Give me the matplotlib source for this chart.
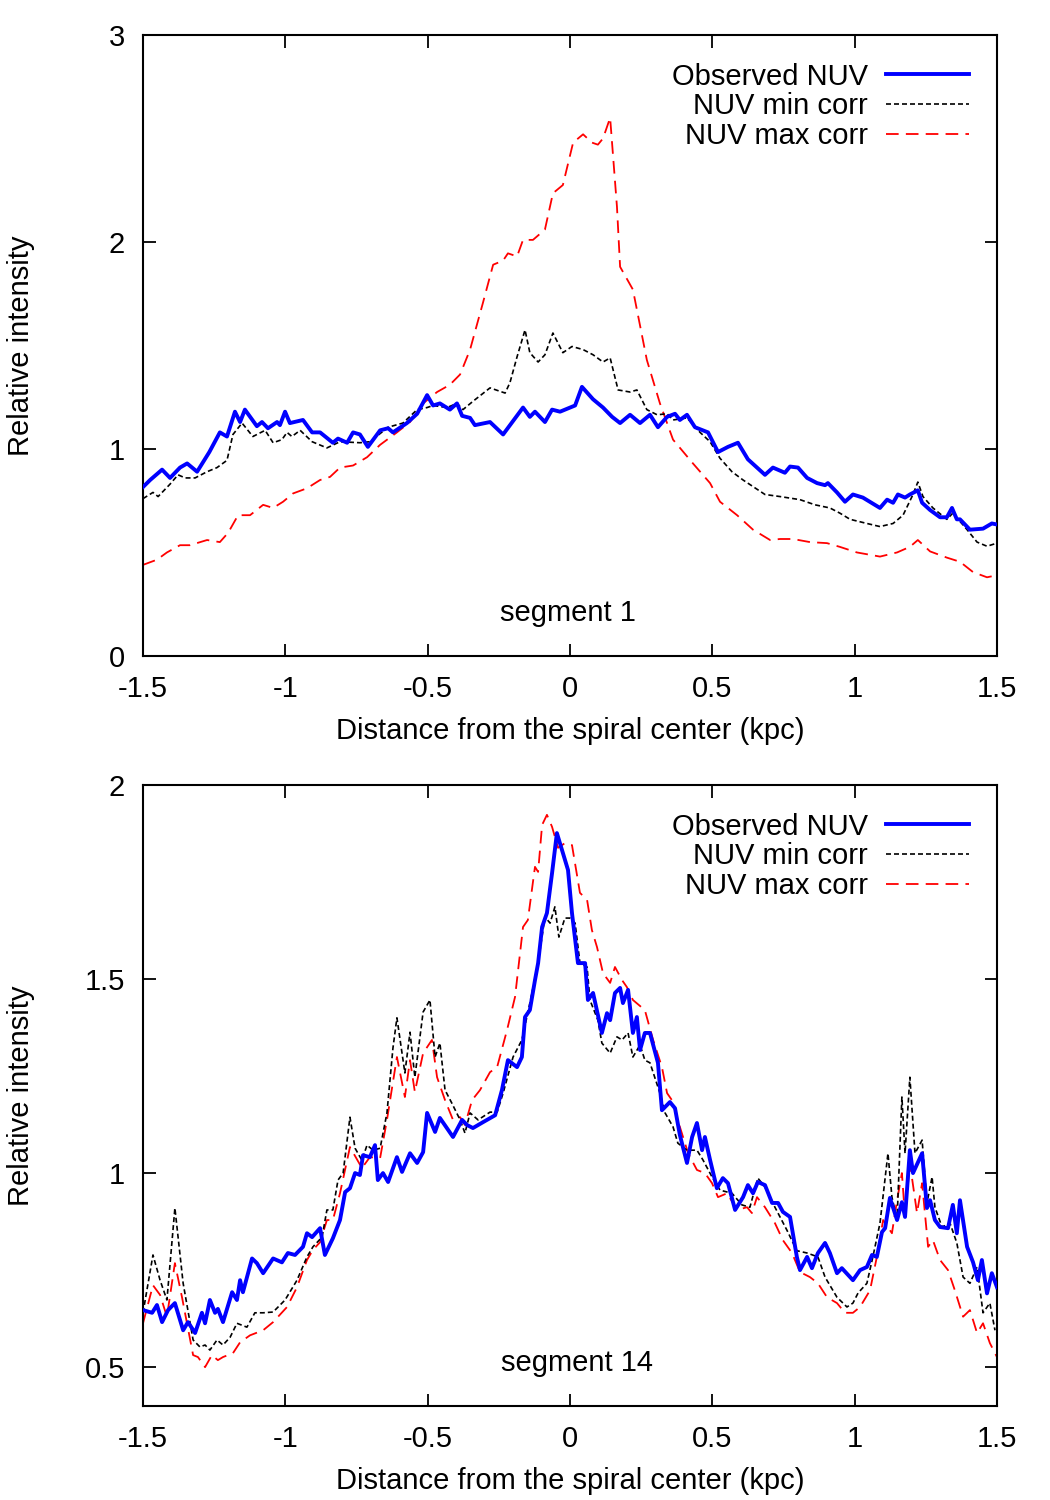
import numpy as np
import matplotlib
matplotlib.use('Agg')
import matplotlib.pyplot as plt

plt.rcParams['font.family'] = ['Liberation Sans', 'DejaVu Sans']

# ---- segment 1 ----
s1_obs_x = [-1.500, -1.475, -1.433, -1.405, -1.370, -1.345, -1.310, -1.267, -1.230, -1.205,
            -1.177, -1.159, -1.142, -1.100, -1.082, -1.061, -1.029, -1.019, -1.001, -0.984,
            -0.938, -0.906, -0.878, -0.833, -0.815, -0.783, -0.762, -0.738, -0.710, -0.667,
            -0.639, -0.622, -0.573, -0.537, -0.502, -0.481, -0.457, -0.422, -0.397, -0.379,
            -0.351, -0.334, -0.281, -0.235, -0.165, -0.141, -0.123, -0.088, -0.063, -0.035,
            0.018, 0.042, 0.081, 0.116, 0.148, 0.176, 0.211, 0.246, 0.281, 0.309,
            0.341, 0.369, 0.386, 0.411, 0.439, 0.485, 0.520, 0.555, 0.590, 0.625,
            0.685, 0.713, 0.755, 0.773, 0.801, 0.833, 0.868, 0.896, 0.906, 0.938,
            0.966, 0.994, 1.029, 1.089, 1.114, 1.135, 1.152, 1.177, 1.194, 1.222,
            1.237, 1.265, 1.300, 1.324, 1.342, 1.359, 1.370, 1.405, 1.451, 1.482, 1.500]
s1_obs_y = [0.816, 0.85, 0.90, 0.86, 0.91, 0.93, 0.89, 0.985, 1.08, 1.06,
            1.18, 1.13, 1.19, 1.11, 1.13, 1.10, 1.13, 1.115, 1.18, 1.125,
            1.14, 1.08, 1.08, 1.03, 1.05, 1.03, 1.08, 1.07, 1.01, 1.09,
            1.10, 1.08, 1.125, 1.17, 1.26, 1.21, 1.22, 1.19, 1.22, 1.16,
            1.15, 1.115, 1.13, 1.07, 1.20, 1.155, 1.18, 1.13, 1.19, 1.18,
            1.21, 1.30, 1.24, 1.20, 1.155, 1.125, 1.165, 1.125, 1.165, 1.105,
            1.155, 1.17, 1.14, 1.165, 1.105, 1.08, 0.985, 1.01, 1.03, 0.95,
            0.875, 0.91, 0.885, 0.915, 0.91, 0.86, 0.835, 0.825, 0.835, 0.79,
            0.745, 0.78, 0.765, 0.715, 0.755, 0.74, 0.78, 0.765, 0.78, 0.80,
            0.74, 0.705, 0.67, 0.67, 0.715, 0.66, 0.66, 0.61, 0.615, 0.64, 0.635]

s1_min_x = [-1.500, -1.465, -1.447, -1.405, -1.377, -1.352, -1.317, -1.275, -1.240, -1.205,
            -1.184, -1.152, -1.114, -1.071, -1.043, -1.012, -0.994, -0.977, -0.948, -0.906,
            -0.854, -0.808, -0.738, -0.703, -0.639, -0.587, -0.537, -0.502, -0.481, -0.432,
            -0.397, -0.376, -0.341, -0.281, -0.228, -0.211, -0.186, -0.158, -0.141, -0.112,
            -0.088, -0.060, -0.025, 0.007, 0.046, 0.081, 0.116, 0.141, 0.169, 0.211,
            0.235, 0.270, 0.306, 0.341, 0.362, 0.411, 0.457, 0.492, 0.527, 0.569,
            0.608, 0.685, 0.738, 0.808, 0.861, 0.913, 0.948, 0.984, 1.043, 1.089,
            1.135, 1.170, 1.205, 1.222, 1.240, 1.275, 1.324, 1.345, 1.395, 1.430, 1.465, 1.500]
s1_min_y = [0.76, 0.79, 0.77, 0.83, 0.875, 0.86, 0.86, 0.89, 0.91, 0.945,
            1.07, 1.125, 1.06, 1.09, 1.03, 1.045, 1.08, 1.06, 1.09, 1.035,
            1.005, 1.035, 1.03, 1.035, 1.105, 1.125, 1.19, 1.20, 1.21, 1.20,
            1.22, 1.19, 1.23, 1.295, 1.27, 1.32, 1.445, 1.575, 1.465, 1.42,
            1.455, 1.56, 1.465, 1.495, 1.48, 1.455, 1.42, 1.44, 1.285, 1.275,
            1.285, 1.19, 1.165, 1.17, 1.14, 1.15, 1.08, 1.035, 0.955, 0.89,
            0.85, 0.78, 0.77, 0.755, 0.73, 0.715, 0.69, 0.66, 0.64, 0.625,
            0.64, 0.68, 0.78, 0.84, 0.77, 0.715, 0.66, 0.69, 0.61, 0.55, 0.53, 0.545]

s1_max_x = [-1.500, -1.451, -1.416, -1.370, -1.335, -1.275, -1.230, -1.201, -1.166, -1.124,
            -1.078, -1.043, -1.008, -0.973, -0.924, -0.878, -0.843, -0.808, -0.762, -0.713,
            -0.667, -0.608, -0.562, -0.516, -0.467, -0.422, -0.386, -0.351, -0.306, -0.270,
            -0.235, -0.218, -0.186, -0.165, -0.130, -0.088, -0.060, -0.025, 0.011, 0.046,
            0.077, 0.098, 0.116, 0.141, 0.165, 0.176, 0.221, 0.270, 0.316, 0.362,
            0.432, 0.492, 0.527, 0.587, 0.643, 0.703, 0.738, 0.783, 0.843, 0.903,
            0.948, 1.008, 1.089, 1.149, 1.194, 1.222, 1.265, 1.324, 1.370, 1.416, 1.465, 1.500]
s1_max_y = [0.44, 0.465, 0.50, 0.535, 0.535, 0.56, 0.55, 0.595, 0.68, 0.68,
            0.73, 0.715, 0.745, 0.785, 0.81, 0.85, 0.865, 0.91, 0.92, 0.96,
            1.02, 1.08, 1.13, 1.22, 1.275, 1.31, 1.36, 1.48, 1.705, 1.89,
            1.91, 1.945, 1.93, 2.01, 2.01, 2.06, 2.235, 2.275, 2.48, 2.52,
            2.48, 2.47, 2.50, 2.60, 2.17, 1.88, 1.77, 1.43, 1.22, 1.045,
            0.93, 0.835, 0.745, 0.68, 0.61, 0.56, 0.565, 0.565, 0.55, 0.545,
            0.527, 0.50, 0.48, 0.50, 0.527, 0.56, 0.505, 0.475, 0.455, 0.405, 0.38, 0.39]

# ---- segment 14 ----
s14_obs_x = [-1.500, -1.468, -1.451, -1.433, -1.412, -1.388, -1.359, -1.342, -1.317, -1.293,
             -1.282, -1.265, -1.247, -1.237, -1.219, -1.187, -1.170, -1.159, -1.149, -1.117,
             -1.100, -1.078, -1.043, -1.012, -0.991, -0.966, -0.938, -0.924, -0.906, -0.878,
             -0.861, -0.833, -0.808, -0.790, -0.773, -0.755, -0.738, -0.727, -0.703, -0.685,
             -0.675, -0.657, -0.639, -0.608, -0.590, -0.562, -0.537, -0.516, -0.502, -0.474,
             -0.457, -0.411, -0.379, -0.362, -0.341, -0.306, -0.263, -0.239, -0.218, -0.186,
             -0.169, -0.158, -0.141, -0.123, -0.112, -0.098, -0.081, -0.063, -0.046, -0.028,
             -0.007, 0.007, 0.028, 0.053, 0.063, 0.081, 0.112, 0.130, 0.141, 0.158,
             0.176, 0.186, 0.204, 0.221, 0.235, 0.246, 0.263, 0.281, 0.309, 0.323,
             0.351, 0.369, 0.386, 0.411, 0.429, 0.446, 0.464, 0.474, 0.492, 0.516,
             0.537, 0.555, 0.580, 0.608, 0.625, 0.643, 0.660, 0.685, 0.710, 0.731,
             0.748, 0.773, 0.797, 0.808, 0.833, 0.850, 0.871, 0.896, 0.913, 0.938,
             0.955, 0.994, 1.019, 1.043, 1.061, 1.078, 1.096, 1.107, 1.124, 1.149,
             1.166, 1.177, 1.194, 1.205, 1.237, 1.254, 1.265, 1.282, 1.300, 1.328,
             1.345, 1.359, 1.370, 1.395, 1.416, 1.433, 1.447, 1.465, 1.482, 1.500]
s14_obs_y = [0.647, 0.64, 0.66, 0.616, 0.647, 0.665, 0.595, 0.616, 0.588, 0.64,
             0.613, 0.673, 0.64, 0.65, 0.616, 0.693, 0.673, 0.724, 0.693, 0.78,
             0.768, 0.742, 0.78, 0.77, 0.794, 0.789, 0.81, 0.845, 0.835, 0.858,
             0.789, 0.832, 0.879, 0.951, 0.961, 1.0, 0.995, 1.046, 1.041, 1.072,
             0.982, 1.0, 0.977, 1.041, 1.003, 1.051, 1.026, 1.054, 1.155, 1.106,
             1.142, 1.093, 1.137, 1.124, 1.116, 1.131, 1.149, 1.214, 1.291, 1.273,
             1.299, 1.402, 1.42, 1.497, 1.541, 1.634, 1.67, 1.773, 1.876, 1.832,
             1.781, 1.67, 1.541, 1.541, 1.446, 1.464, 1.361, 1.412, 1.394, 1.464,
             1.477, 1.438, 1.472, 1.361, 1.402, 1.317, 1.361, 1.361, 1.284, 1.162,
             1.183, 1.167, 1.098, 1.026, 1.093, 1.129, 1.059, 1.093, 1.034, 0.961,
             0.987, 0.974, 0.905, 0.938, 0.969, 0.948, 0.977, 0.969, 0.923, 0.923,
             0.90, 0.887, 0.784, 0.75, 0.784, 0.755, 0.794, 0.82, 0.794, 0.742,
             0.755, 0.724, 0.75, 0.758, 0.789, 0.784, 0.848, 0.858, 0.936, 0.879,
             0.925, 0.887, 1.059, 1.0, 1.051, 0.91, 0.93, 0.879, 0.861, 0.858,
             0.918, 0.845, 0.93, 0.81, 0.77, 0.724, 0.776, 0.69, 0.742, 0.706]

s14_min_x = [-1.500, -1.465, -1.440, -1.416, -1.388, -1.359, -1.324, -1.300, -1.282, -1.265,
             -1.240, -1.219, -1.194, -1.170, -1.135, -1.107, -1.078, -1.043, -1.001, -0.959,
             -0.924, -0.903, -0.871, -0.854, -0.833, -0.815, -0.797, -0.773, -0.755, -0.731,
             -0.713, -0.692, -0.667, -0.643, -0.622, -0.608, -0.580, -0.562, -0.545, -0.516,
             -0.492, -0.474, -0.457, -0.439, -0.415, -0.386, -0.369, -0.351, -0.323, -0.281,
             -0.256, -0.235, -0.200, -0.169, -0.141, -0.112, -0.088, -0.070, -0.053, -0.039,
             -0.018, 0.000, 0.018, 0.035, 0.060, 0.070, 0.098, 0.112, 0.141, 0.165,
             0.183, 0.204, 0.221, 0.246, 0.263, 0.281, 0.316, 0.334, 0.362, 0.379,
             0.411, 0.446, 0.467, 0.499, 0.527, 0.569, 0.604, 0.632, 0.660, 0.685,
             0.720, 0.762, 0.797, 0.833, 0.871, 0.896, 0.938, 0.973, 0.994, 1.012,
             1.043, 1.064, 1.089, 1.117, 1.131, 1.149, 1.166, 1.177, 1.194, 1.212,
             1.237, 1.254, 1.272, 1.282, 1.307, 1.335, 1.359, 1.381, 1.405, 1.430,
             1.451, 1.475, 1.493]
s14_min_y = [0.64, 0.789, 0.724, 0.673, 0.91, 0.716, 0.57, 0.552, 0.557, 0.544,
             0.57, 0.557, 0.577, 0.613, 0.603, 0.64, 0.64, 0.642, 0.673, 0.724,
             0.784, 0.81, 0.835, 0.905, 0.905, 0.982, 1.0, 1.144, 1.064, 1.033,
             1.072, 1.059, 1.064, 1.155, 1.322, 1.40, 1.258, 1.363, 1.247, 1.415,
             1.446, 1.299, 1.335, 1.214, 1.18, 1.137, 1.103, 1.155, 1.137, 1.157,
             1.157, 1.206, 1.299, 1.343, 1.438, 1.541, 1.66, 1.644, 1.686, 1.608,
             1.657, 1.657, 1.644, 1.541, 1.531, 1.446, 1.394, 1.335, 1.309, 1.351,
             1.343, 1.361, 1.299, 1.33, 1.291, 1.284, 1.206, 1.155, 1.119, 1.077,
             1.059, 1.059, 1.034, 0.99, 0.956, 0.948, 0.918, 0.912, 0.987, 0.964,
             0.912, 0.853, 0.80, 0.794, 0.784, 0.732, 0.68, 0.655, 0.665, 0.691,
             0.716, 0.784, 0.871, 1.051, 0.938, 0.879, 1.196, 1.051, 1.247, 1.051,
             1.085, 0.923, 0.99, 0.912, 0.861, 0.871, 0.82, 0.732, 0.716, 0.758,
             0.64, 0.665, 0.595]

s14_max_x = [-1.500, -1.465, -1.440, -1.416, -1.388, -1.363, -1.324, -1.307, -1.282, -1.258,
             -1.237, -1.219, -1.184, -1.159, -1.124, -1.078, -1.043, -0.994, -0.959, -0.924,
             -0.903, -0.878, -0.854, -0.833, -0.808, -0.773, -0.731, -0.703, -0.667, -0.643,
             -0.608, -0.580, -0.562, -0.545, -0.516, -0.485, -0.467, -0.439, -0.411, -0.386,
             -0.369, -0.344, -0.316, -0.281, -0.256, -0.221, -0.193, -0.165, -0.148, -0.123,
             -0.112, -0.098, -0.081, -0.063, -0.042, -0.018, 0.007, 0.035, 0.060, 0.077,
             0.095, 0.116, 0.141, 0.158, 0.183, 0.200, 0.221, 0.263, 0.292, 0.323,
             0.341, 0.358, 0.386, 0.415, 0.446, 0.474, 0.499, 0.520, 0.552, 0.587,
             0.622, 0.639, 0.657, 0.685, 0.720, 0.748, 0.780, 0.808, 0.843, 0.871,
             0.903, 0.938, 0.966, 0.994, 1.019, 1.054, 1.078, 1.100, 1.131, 1.149,
             1.166, 1.177, 1.194, 1.219, 1.237, 1.258, 1.275, 1.300, 1.328, 1.352,
             1.381, 1.405, 1.430, 1.451, 1.475, 1.500]
s14_max_y = [0.613, 0.711, 0.686, 0.63, 0.768, 0.68, 0.531, 0.526, 0.50, 0.531,
             0.518, 0.526, 0.536, 0.564, 0.582, 0.595, 0.616, 0.655, 0.706, 0.776,
             0.802, 0.822, 0.879, 0.879, 0.948, 1.067, 1.013, 1.041, 1.039, 1.137,
             1.299, 1.196, 1.291, 1.209, 1.309, 1.343, 1.247, 1.188, 1.137, 1.144,
             1.124, 1.188, 1.214, 1.26, 1.273, 1.369, 1.454, 1.634, 1.652, 1.789,
             1.776, 1.897, 1.923, 1.892, 1.838, 1.85, 1.845, 1.722, 1.704, 1.626,
             1.582, 1.515, 1.49, 1.531, 1.497, 1.479, 1.446, 1.42, 1.343, 1.273,
             1.206, 1.188, 1.119, 1.051, 1.008, 1.0, 0.974, 0.938, 0.948, 0.905,
             0.912, 0.897, 0.938, 0.912, 0.871, 0.827, 0.794, 0.745, 0.732, 0.716,
             0.68, 0.665, 0.64, 0.64, 0.655, 0.698, 0.784, 0.879, 0.845, 0.93,
             1.0, 0.887, 1.026, 0.897, 0.974, 0.81, 0.827, 0.776, 0.75, 0.698,
             0.63, 0.647, 0.588, 0.613, 0.562, 0.526]

x_ticks = [-1.5, -1, -0.5, 0, 0.5, 1, 1.5]
x_ticklabels = ['-1.5', '-1', '-0.5', '0', '0.5', '1', '1.5']

panels = [
    dict(obs=(s1_obs_x, s1_obs_y), mn=(s1_min_x, s1_min_y), mx=(s1_max_x, s1_max_y),
         ylim=(0, 3), yticks=[0, 1, 2, 3], yticklabels=['0', '1', '2', '3'],
         label='segment 1', label_x=0.4977, rect=[0.1362, 0.5627, 0.8133, 0.414]),
    dict(obs=(s14_obs_x, s14_obs_y), mn=(s14_min_x, s14_min_y), mx=(s14_max_x, s14_max_y),
         ylim=(0.4, 2), yticks=[0.5, 1, 1.5, 2], yticklabels=['0.5', '1', '1.5', '2'],
         label='segment 14', label_x=0.508, rect=[0.1362, 0.0627, 0.8133, 0.414]),
]

fig = plt.figure(figsize=(10.5, 15), dpi=100)
fs = 21

for p in panels:
    ax = fig.add_axes(p['rect'])
    ax.plot(*p['obs'], color='#0000ff', lw=2.8, label='Observed NUV', zorder=3)
    ax.plot(*p['mn'], color='black', lw=1.2, dashes=(3, 1.8), label='NUV min corr', zorder=2)
    ax.plot(*p['mx'], color='#ff0000', lw=1.3, dashes=(7, 4), label='NUV max corr', zorder=1)

    ax.set_xlim(-1.5, 1.5)
    ax.set_ylim(*p['ylim'])
    ax.set_xticks(x_ticks)
    ax.set_xticklabels(x_ticklabels)
    ax.set_yticks(p['yticks'])
    ax.set_yticklabels(p['yticklabels'])
    ax.tick_params(direction='in', length=9, width=1.3, labelsize=fs,
                   top=True, right=True)
    ax.tick_params(axis='x', pad=14)
    ax.tick_params(axis='y', pad=13)
    for s in ax.spines.values():
        s.set_linewidth(1.5)

    ax.set_xlabel('Distance from the spiral center (kpc)', fontsize=fs)
    ax.xaxis.set_label_coords(0.5, -0.098)
    ax.set_ylabel('Relative intensity', fontsize=fs)
    ax.yaxis.set_label_coords(-0.1265, 0.5)
    ax.text(p['label_x'], 0.069, p['label'], transform=ax.transAxes, ha='center',
            va='center', fontsize=fs)

    ax.legend(loc='upper right', frameon=False, markerfirst=False, fontsize=fs,
              handlelength=2.85, handletextpad=0.62, labelspacing=0.06,
              borderaxespad=0.55, borderpad=0.4, alignment='right')

fig.savefig('out.png', dpi=100)
